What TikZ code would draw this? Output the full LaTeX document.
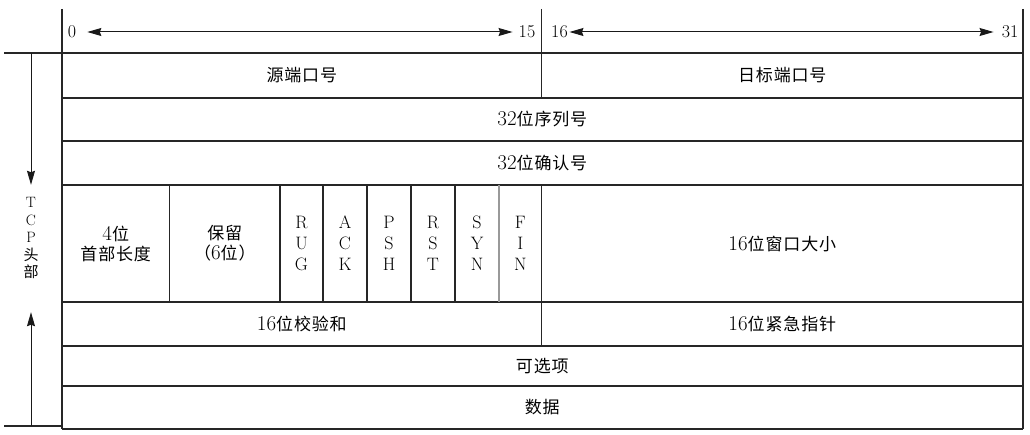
\documentclass[tikz,border=0pt]{standalone}
\usepackage{fontspec}
\newfontfamily\cjk[LetterSpace=5]{Noto Sans CJK SC}
\newcommand{\dig}[1]{{\rmfamily\fontsize{21}{20}\selectfont #1}}
\usetikzlibrary{arrows.meta}

\begin{document}
\begin{tikzpicture}
[x=1pt, y=-1pt,
 >={Stealth[length=14pt,width=8pt,inset=1.5pt]},
 rule/.style={draw=black!85, line width=1.2pt},
 thin rule/.style={draw=black!40, line width=1.2pt},
 pointer/.style={draw=black!90, line width=1pt},
 bit/.style={font=\fontsize{18}{20}\selectfont, inner sep=1pt},
 cell/.style={font=\cjk\fontsize{17}{20}\selectfont, align=center},
 flag/.style={font=\fontsize{18}{21}\selectfont, align=center}]
\useasboundingbox (0,0) rectangle (1030,435);
% frame of the header
\draw[rule] (4,53) -- (1023,53);
\draw[rule] (62,9) -- (62,429);
\draw[rule] (1023,9) -- (1023,429);
\draw[rule] (541.7,9) -- (541.7,98);
\draw[rule] (541.7,185) -- (541.7,346);
\draw[rule] (62,98) -- (1023,98);
\draw[rule] (62,141) -- (1023,141);
\draw[rule] (62,185) -- (1023,185);
\draw[rule] (62,302) -- (1023,302);
\draw[rule] (62,346) -- (1023,346);
\draw[rule] (62,386) -- (1023,386);
\draw[rule] (62,429) -- (1023,429);
\draw[rule] (4,426) -- (62,426);
% flag columns
\draw[rule] (169.5,185) -- (169.5,302);
\draw[rule] (280,185) -- (280,302);
\draw[rule] (323,185) -- (323,302);
\draw[rule] (367,185) -- (367,302);
\draw[rule] (411,185) -- (411,302);
\draw[rule] (455,185) -- (455,302);
\draw[thin rule] (499,185) -- (499,302);
% bit numbers
\node[bit] (b0) at (72,32) {0};
\node[bit] (b15) at (527,32) {15};
\node[bit] (b16) at (559.5,32) {16};
\node[bit] (b31) at (1010,32) {31};
\draw[pointer,<->,shorten <=10pt,shorten >=5pt] (b0) -- (b15);
\draw[pointer,<->,shorten <=0.5pt,shorten >=7pt] (b16) -- (b31);
% fields
\node[cell] (src) at (301.8,75.5) {源端口号};
\node[cell] (dst) at (782.3,75.5) {日标端口号};
\node[cell] (seq) at (542.3,119.5) {\dig{32}位序列号};
\node[cell] (ack) at (542.3,163) {\dig{32}位确认号};
\node[cell] (hlen) at (115.7,243.5) {\dig{4}位\\首部长度};
\node[cell] (res) at (224.8,243.5) {保留\\（\dig{6}位）};
\node[flag] (urg) at (301.5,243.5) {R\\U\\G};
\node[flag] (fack) at (345,243.5) {A\\C\\K};
\node[flag] (psh) at (389,243.5) {P\\S\\H};
\node[flag] (rst) at (433,243.5) {R\\S\\T};
\node[flag] (syn) at (477,243.5) {S\\Y\\N};
\node[flag] (fin) at (520.3,243.5) {F\\I\\N};
\node[cell] (win) at (782.3,243.5) {\dig{16}位窗口大小};
\node[cell] (csum) at (301.8,324) {\dig{16}位校验和};
\node[cell] (uptr) at (782.3,324) {\dig{16}位紧急指针};
\node[cell] (opt) at (542.3,366) {可选项};
\node[cell] (data) at (542.3,407.5) {数据};
% side label
\node[font=\fontsize{15}{17.5}\selectfont, align=center] (tcp) at (31,238)
  {T\\C\\P\\{\cjk\fontsize{15}{17.5}\selectfont 头}\\{\cjk\fontsize{15}{17.5}\selectfont 部}};
\coordinate (htop) at (31,53);
\coordinate (hbot) at (31,426);
\draw[pointer,->,shorten >=9pt] (htop) -- (tcp.north);
\draw[pointer,->,shorten >=30pt] (hbot) -- (tcp.south);
\end{tikzpicture}
\end{document}
